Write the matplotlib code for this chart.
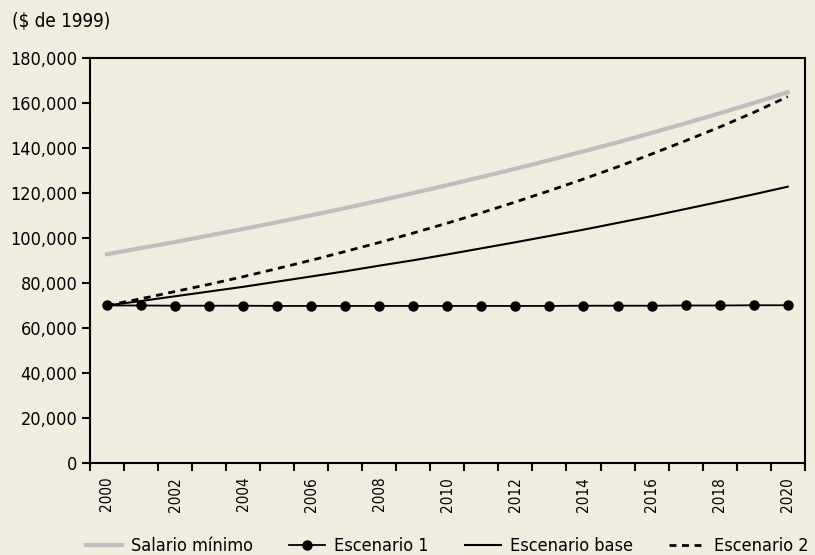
import matplotlib
matplotlib.use('Agg')
import matplotlib.pyplot as plt
from matplotlib.ticker import FuncFormatter

plt.rcParams['font.family'] = ['Liberation Sans Narrow', 'DejaVu Sans']
plt.rcParams['font.stretch'] = 'condensed'

years = list(range(2000, 2021))
salario_minimo = [92.8, 95.5, 98.2, 101.1, 104.0, 107.0, 110.1, 113.3, 116.6, 120.0, 123.5,
                  127.1, 130.8, 134.6, 138.5, 142.5, 146.7, 151.0, 155.4, 160.0, 164.8]
escenario_1 = [70.0, 70.0, 69.9, 69.9, 69.9, 69.8, 69.8, 69.8, 69.8, 69.8, 69.8,
               69.8, 69.8, 69.8, 69.9, 69.9, 69.9, 70.0, 70.0, 70.1, 70.1]
escenario_base = [70.0, 72.0, 74.1, 76.2, 78.3, 80.6, 82.9, 85.2, 87.7, 90.1, 92.7,
                  95.4, 98.1, 100.9, 103.7, 106.7, 109.7, 112.9, 116.1, 119.4, 122.8]
escenario_2 = [70.0, 73.0, 76.2, 79.4, 82.8, 86.4, 90.1, 94.0, 98.0, 102.2, 106.6,
               111.2, 116.0, 121.0, 126.2, 131.6, 137.3, 143.2, 149.3, 155.8, 162.8]

bg = '#F1EDDE'
fig = plt.figure(figsize=(8.15, 5.55), dpi=100, facecolor=bg)
ax = fig.add_axes([0.1104, 0.1658, 0.877, 0.7297], facecolor=bg)

x = list(range(len(years)))
k = 1000
ax.plot(x, [v * k for v in salario_minimo], color='#BEBEBE', lw=3, label='Salario mínimo')
ax.plot(x, [v * k for v in escenario_1], color='black', lw=1.3, marker='o', ms=6.5,
        label='Escenario 1')
ax.plot(x, [v * k for v in escenario_base], color='black', lw=1.5, label='Escenario base')
ax.plot(x, [v * k for v in escenario_2], color='black', lw=2, ls=(0, (2.5, 2)),
        label='Escenario 2')

ax.set_xlim(-0.5, len(years) - 0.5)
ax.set_ylim(0, 180000)
ax.set_yticks(range(0, 180001, 20000))
ax.yaxis.set_major_formatter(FuncFormatter(lambda v, p: f'{int(v):,}'))

# ticks on category boundaries, labels at centres every other year
ax.set_xticks([i - 0.5 for i in range(len(years) + 1)])
ax.set_xticklabels([])
ax.set_xticks(x[::2], minor=True)
ax.set_xticklabels([str(y) for y in years[::2]], minor=True, rotation=90)
ax.tick_params(axis='x', which='minor', length=0, pad=10, labelsize=11)
ax.tick_params(axis='x', which='major', length=6, width=1.5)
ax.tick_params(axis='y', length=6, width=1.5, labelsize=13, pad=3)

for s in ax.spines.values():
    s.set_linewidth(1.5)

fig.text(0.015, 0.962, '($ de 1999)', fontsize=13.5, va='center', ha='left')

fig.legend(loc='lower center', bbox_to_anchor=(0.549, -0.03), ncol=4, frameon=False,
           fontsize=13, handlelength=2.0, columnspacing=2.0, handletextpad=0.5)

fig.savefig('out.png', dpi=100, facecolor=bg)
